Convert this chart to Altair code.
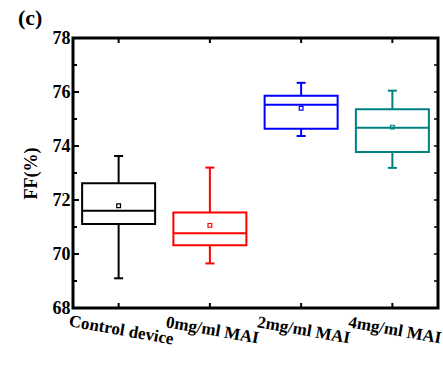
import altair as alt
import pandas as pd

categories = ["Control device", "0mg/ml MAI", "2mg/ml MAI", "4mg/ml MAI"]
colors = ["#000000", "#ff0000", "#0000ff", "#008080"]
whisker_low = [69.10, 69.65, 74.37, 73.19]
q1 = [71.11, 70.32, 74.64, 73.78]
median = [71.60, 70.77, 75.53, 74.68]
q3 = [72.62, 71.54, 75.86, 75.36]
whisker_high = [73.63, 73.20, 76.34, 76.05]
mean = [71.79, 71.06, 75.40, 74.70]

major_ticks = [68, 70, 72, 74, 76, 78]
minor_ticks = [69, 71, 73, 75, 77]
all_ticks = list(range(68, 79))

df = pd.DataFrame({
    "cat": categories, "lo": whisker_low, "q1": q1, "med": median,
    "q3": q3, "hi": whisker_high, "mean": mean,
})

FONT = "Liberation Serif"
W, H = 365, 270

xs = alt.Scale(domain=categories, paddingInner=0, paddingOuter=0)
ys = alt.Scale(domain=[68, 78], nice=False, zero=False)
col = alt.Color("cat:N", scale=alt.Scale(domain=categories, range=colors), legend=None)

xenc = alt.X("cat:N", scale=xs, sort=categories, title=None,
             axis=alt.Axis(labelAngle=10, labelAlign="center", labelBaseline="top",
                           labelPadding=14, labelOffset=4, ticks=False, domain=False,
                           labelFont=FONT, labelFontSize=17, labelFontWeight="bold",
                           labelColor="black", labelOverlap=False, labelBound=False))
yaxis = alt.Axis(values=major_ticks, tickSize=0, domain=False, grid=False,
                 labelFont=FONT, labelFontSize=18, labelFontWeight="bold", labelColor="black",
                 labelPadding=3, title="FF(%)", titleFont=FONT, titleFontSize=18,
                 titleFontWeight="bold", titleColor="black", titlePadding=12)

base = alt.Chart(df)

boxes = base.mark_bar(filled=False, size=73, strokeWidth=2).encode(
    x=xenc,
    y=alt.Y("q1:Q", scale=ys, axis=yaxis),
    y2="q3:Q",
    stroke=alt.Color("cat:N", scale=alt.Scale(domain=categories, range=colors), legend=None),
)
med = base.mark_tick(orient="horizontal", size=73, thickness=2, opacity=1).encode(
    x=alt.X("cat:N", scale=xs, sort=categories), y=alt.Y("med:Q", scale=ys), color=col)
w_low = base.mark_rule(strokeWidth=2).encode(
    x=alt.X("cat:N", scale=xs, sort=categories), y=alt.Y("lo:Q", scale=ys), y2="q1:Q", color=col)
w_hi = base.mark_rule(strokeWidth=2).encode(
    x=alt.X("cat:N", scale=xs, sort=categories), y=alt.Y("q3:Q", scale=ys), y2="hi:Q", color=col)
cap_lo = base.mark_tick(orient="horizontal", size=9, thickness=2, opacity=1).encode(
    x=alt.X("cat:N", scale=xs, sort=categories), y=alt.Y("lo:Q", scale=ys), color=col)
cap_hi = base.mark_tick(orient="horizontal", size=9, thickness=2, opacity=1).encode(
    x=alt.X("cat:N", scale=xs, sort=categories), y=alt.Y("hi:Q", scale=ys), color=col)
mean_pt = base.mark_point(shape="square", size=14, filled=False, strokeWidth=1.2, opacity=1).encode(
    x=alt.X("cat:N", scale=xs, sort=categories), y=alt.Y("mean:Q", scale=ys), color=col)

tick_major = alt.Chart(pd.DataFrame({"v": major_ticks})).mark_rule(color="black", strokeWidth=2).encode(
    y=alt.Y("v:Q", scale=ys), x=alt.value(0), x2=alt.value(6))
tick_minor = alt.Chart(pd.DataFrame({"v": minor_ticks})).mark_rule(color="black", strokeWidth=2).encode(
    y=alt.Y("v:Q", scale=ys), x=alt.value(0), x2=alt.value(4))
tick_right = alt.Chart(pd.DataFrame({"v": all_ticks})).mark_rule(color="black", strokeWidth=1.5).encode(
    y=alt.Y("v:Q", scale=ys), x=alt.value(W - 4), x2=alt.value(W))
cat_df = pd.DataFrame({"cat": categories})
tick_bottom = alt.Chart(cat_df).mark_rule(color="black", strokeWidth=2).encode(
    x=alt.X("cat:N", scale=xs, sort=categories), y=alt.value(H - 5), y2=alt.value(H))
tick_top = alt.Chart(cat_df).mark_rule(color="black", strokeWidth=2).encode(
    x=alt.X("cat:N", scale=xs, sort=categories), y=alt.value(0), y2=alt.value(5))

chart = alt.layer(
    boxes, med, w_low, w_hi, cap_lo, cap_hi, mean_pt,
    tick_major, tick_minor, tick_right, tick_bottom, tick_top,
).properties(
    width=W, height=H,
    title=alt.TitleParams("(c)", anchor="start", frame="group", font=FONT, fontSize=22,
                          fontWeight="bold", color="black", dx=-55, dy=1, offset=0),
    autosize=alt.AutoSizeParams(type="none"),
    padding={"left": 73, "top": 38, "right": 5, "bottom": 57},
).configure_view(stroke="black", strokeWidth=3)

chart.save("out.html", embed_options={"renderer": "svg", "actions": False})
